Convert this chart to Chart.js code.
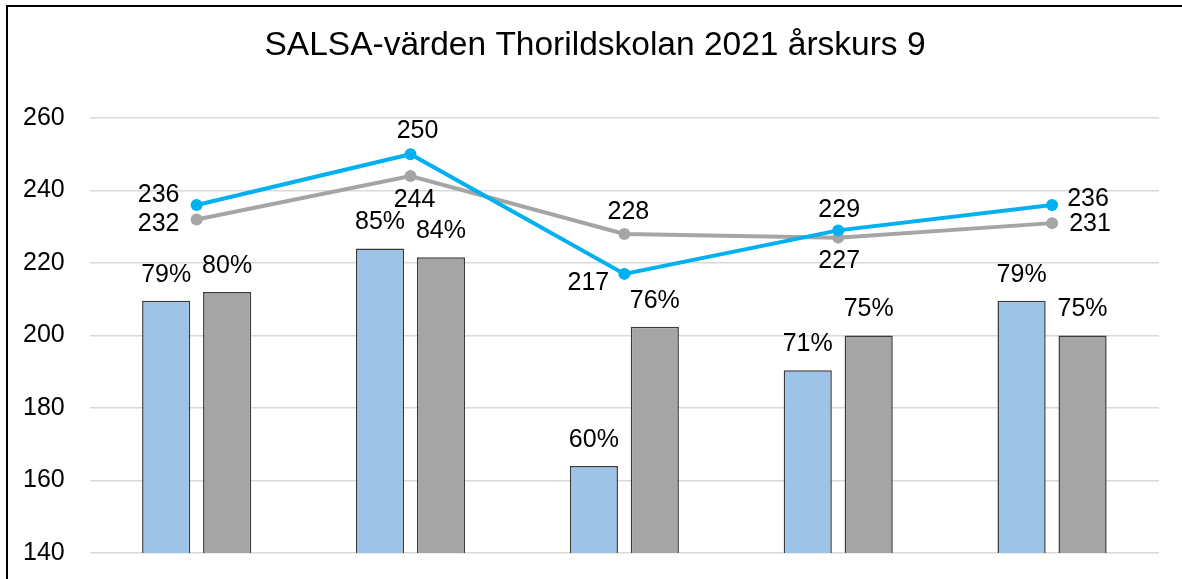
<!DOCTYPE html>
<html><head><meta charset="utf-8">
<script src="https://cdn.jsdelivr.net/npm/chart.js@4"></script>
<style>html,body{margin:0;padding:0;background:#fff}#wrap{width:1182px;height:579px}</style>
</head><body><div id="wrap"><canvas id="c" width="1182" height="579"></canvas></div>
<script>
const categories = ['Kategori 1','Kategori 2','Kategori 3','Kategori 4','Kategori 5'];
const meritFaktiskt = [236, 250, 217, 229, 236];
const meritModell = [232, 244, 228, 227, 231];
const andelFaktiskt = [79, 85, 60, 71, 79];
const andelModell = [80, 84, 76, 75, 75];
const yMin = 140, yMax = 260, yStep = 20;
const pctMin = 50, pctMax = 100;
const titleText = 'SALSA-värden Thorildskolan 2021 årskurs 9';

// label offsets (px) relative to each line point — style only
const offsetsFaktiskt = [[-38,-10],[7,-23],[-36,9],[1,-20],[36,-6]];
const offsetsModell = [[-38,5],[4,24],[4,-22],[1,23],[38,1]];

const FONT = '"Liberation Sans", Arial, sans-serif';

const framePlugin = {
  id: 'frame',
  beforeDraw(chart) {
    const ctx = chart.ctx;
    ctx.save();
    ctx.fillStyle = '#fff';
    ctx.fillRect(0, 0, chart.width, chart.height);
    ctx.strokeStyle = '#000';
    ctx.lineWidth = 2;
    ctx.beginPath();
    ctx.moveTo(7, chart.height + 2);
    ctx.lineTo(7, 6);
    ctx.lineTo(chart.width + 2, 6);
    ctx.stroke();
    ctx.font = '33.5px ' + FONT;
    ctx.fillStyle = '#000';
    ctx.textAlign = 'center';
    ctx.textBaseline = 'middle';
    ctx.fillText(titleText, 595, 46);
    ctx.restore();
  }
};

const labelPlugin = {
  id: 'valueLabels',
  afterDatasetsDraw(chart) {
    const ctx = chart.ctx;
    ctx.save();
    ctx.font = '25px ' + FONT;
    ctx.fillStyle = '#000';
    ctx.textAlign = 'center';
    ctx.textBaseline = 'middle';
    chart.data.datasets.forEach((ds, i) => {
      const meta = chart.getDatasetMeta(i);
      meta.data.forEach((el, j) => {
        const v = ds.data[j];
        if (ds.type === 'bar') {
          ctx.fillText(v + '%', el.x, el.y - 26);
        } else {
          const o = ds.labelOffsets[j];
          ctx.fillText(String(v), el.x + o[0], el.y + o[1]);
        }
      });
    });
    ctx.restore();
  }
};

new Chart(document.getElementById('c'), {
  data: {
    labels: categories,
    datasets: [
      { type: 'line', label: 'Meritvärde faktiskt', data: meritFaktiskt, yAxisID: 'y',
        borderColor: '#00B0F0', backgroundColor: '#00B0F0', borderWidth: 4,
        pointRadius: 6, pointBackgroundColor: '#00B0F0', pointBorderWidth: 0,
        tension: 0, order: 0, labelOffsets: offsetsFaktiskt },
      { type: 'line', label: 'Meritvärde modellberäknat', data: meritModell, yAxisID: 'y',
        borderColor: '#A5A5A5', backgroundColor: '#A5A5A5', borderWidth: 4,
        pointRadius: 6, pointBackgroundColor: '#A5A5A5', pointBorderWidth: 0,
        tension: 0, order: 1, labelOffsets: offsetsModell },
      { type: 'bar', label: 'Andel faktiskt', data: andelFaktiskt, yAxisID: 'y1',
        backgroundColor: '#9DC3E6', borderColor: '#3A3A3A', borderWidth: 1.5,
        categoryPercentage: 0.57, barPercentage: 0.79, order: 2 },
      { type: 'bar', label: 'Andel modellberäknat', data: andelModell, yAxisID: 'y1',
        backgroundColor: '#A5A5A5', borderColor: '#3A3A3A', borderWidth: 1.5,
        categoryPercentage: 0.57, barPercentage: 0.79, order: 2 }
    ]
  },
  options: {
    responsive: false,
    animation: false,
    layout: { padding: { left: -2, right: 23, top: 118, bottom: 26 } },
    plugins: {
      legend: { display: false },
      tooltip: { enabled: false },
      title: { display: false }
    },
    scales: {
      x: { display: false, offset: true },
      y: {
        min: yMin, max: yMax,
        border: { display: false },
        grid: { color: '#D9D9D9', lineWidth: 1.5, drawTicks: false },
        ticks: { stepSize: yStep, padding: 25, color: '#000', font: { family: FONT, size: 25 } },
        afterFit(scale) { scale.paddingTop = 0; scale.paddingBottom = 0; }
      },
      y1: { display: false, min: pctMin, max: pctMax, position: 'right' }
    }
  },
  plugins: [framePlugin, labelPlugin]
});
</script>
</body></html>
